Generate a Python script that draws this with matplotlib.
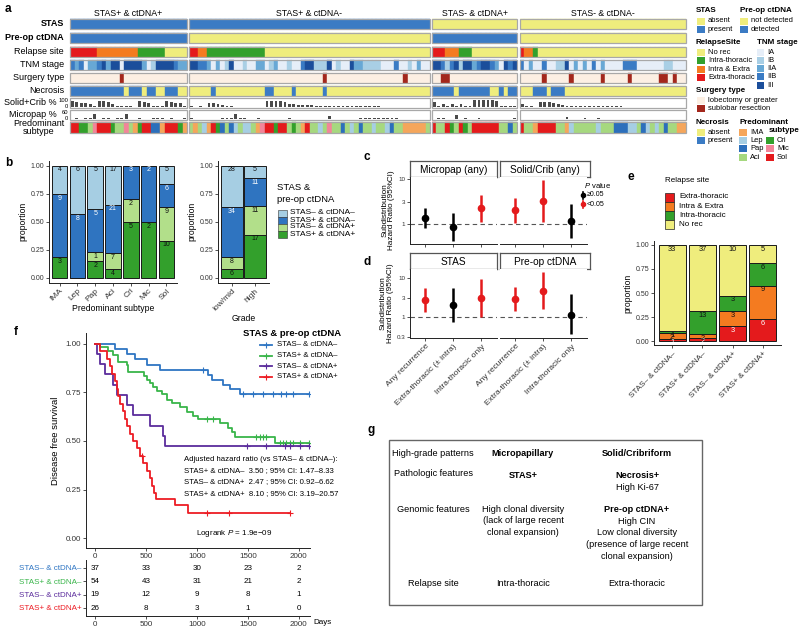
import numpy as np
import matplotlib
matplotlib.use('Agg')
import matplotlib.pyplot as plt
from matplotlib.patches import Rectangle

plt.rcParams['font.family'] = ['Liberation Sans', 'DejaVu Sans']
plt.rcParams['mathtext.fontset'] = 'custom'
plt.rcParams['mathtext.rm'] = 'Liberation Sans'
plt.rcParams['mathtext.it'] = 'Liberation Sans:italic'
plt.rcParams['axes.linewidth'] = 0.7

# ======================= DATA =======================
# ---- panel a ----
group_names = ['STAS+ & ctDNA+', 'STAS+ & ctDNA-', 'STAS- & ctDNA+', 'STAS- & ctDNA-']
group_stas = [1, 1, 0, 0]
group_ctdna = [1, 0, 1, 0]
# relapse: 0 No rec, 1 Intra-thoracic, 2 Intra & Extra, 3 Extra-thoracic
relapse_g1 = [3,3,3,3,3,3,2,2,2,2, 2,2,2,2,2,1,1,1,1,1, 1,0,0,0,0,0]
relapse_g2 = [3,3,2,2,1,1,1,1,1,1, 1,1,1,1,1,1,1,0,0,0, 0,0,0,0,0,0,0,0,0,0,
              0,0,0,0,0,0,0,0,0,0, 0,0,0,0,0,0,0,0,0,0, 0,0,0,0]
relapse_g3 = [3,3,3,2,2,2,1,1,1,0, 0,0,0,0,0,0,0,0,0]
relapse_g4 = [3,2,2,1,0,0,0,0,0,0, 0,0,0,0,0,0,0,0,0,0, 0,0,0,0,0,0,0,0,0,0, 0,0,0,0,0,0,0]
# TNM: 0 IA, 1 IB, 2 IIA, 3 IIB, 4 III
tnm_g1 = [3,2,3,0,2,2,3,4,2,4, 4,0,4,4,4,4,2,0,1,4, 4,4,4,3,2,2]
tnm_g2 = [4,4,3,3,2,0,2,0,1,4, 0,0,1,0,0,2,2,0,1,2, 0,0,1,0,0,3,4,4,1,1,
          1,4,0,1,0,0,4,2,2,1, 1,1,1,0,0,0,3,0,0,1, 0,2,0,0]
tnm_g3 = [4,4,3,1,3,4,1,4,4,2, 3,4,4,3,2,0,4,3,4]
tnm_g4 = [3,0,2,0,0,3,0,0,1,1, 4,0,2,0,2,0,3,0,2,0, 0,0,0,3,3,3,0,0,0,0, 0,0,1,1,0,0,0]
# surgery: 0 lobectomy or greater, 1 sublobar resection
surg_g1 = [0,0,0,0,0,0,0,0,0,0, 0,1,0,0,0,0,0,0,0,0, 0,0,0,0,0,0]
surg_g2 = [0,0,0,0,0,0,0,0,0,0, 0,0,0,0,0,0,0,0,0,0, 0,0,0,0,0,0,0,0,0,0,
           1,0,0,0,0,0,0,0,0,0, 0,0,0,0,0,0,0,0,1,0, 0,0,0,0]
surg_g3 = [0,0,1,1,0,0,0,0,0,0, 0,0,0,0,0,0,0,0,0]
surg_g4 = [0,0,0,0,0,1,0,0,0,0, 0,1,0,0,0,0,0,0,1,0, 0,0,0,0,1,0,0,0,0,0, 0,1,1,0,1,0,0]
# necrosis: 0 absent, 1 present
necro_g1 = [1,1,1,1,1,1,1,1,1,1, 1,1,0,1,1,1,0,1,1,0, 0,1,1,1,0,0]
necro_g2 = [0,0,0,0,0,1,0,0,0,0, 0,0,0,0,0,0,0,1,1,0, 0,0,0,1,0,0,0,0,0,0,
            1,0,0,0,0,0,0,0,0,0, 0,0,0,0,0,0,0,0,0,0, 0,0,0,0]
necro_g3 = [1,1,1,1,1,0,1,1,1,1, 1,1,1,0,0,1,0,1,1]
necro_g4 = [0,0,0,1,1,1,0,1,1,1, 0,0,0,0,0,0,0,0,0,0, 0,0,0,0,0,0,0,0,0,0, 0,0,0,0,0,0,0]
# solid + cribriform %
solid_g1 = [70,60,50,45,40,10,70,70,65,40, 10,5,5,5,0,70,60,50,5,5, 5,70,60,50,45,5]
solid_g2 = [5,0,5,0,50,45,30,20,5,5, 0,0,0,0,0,0,0,75,75,75, 70,60,40,30,25,20,20,18,15,15,
            15,12,12,10,10,10,8,8,5,5, 5,5,5,0,0,0,0,0,0,0, 0,0,0,0]
solid_g3 = [60,5,40,5,40,5,40,5,5,80, 80,80,80,80,75,5,5,5,5]
solid_g4 = [40,5,5,0,60,60,55,45,35,20, 15,15,12,12,10,10,10,8,8,6, 6,5,5,0,0,0,0,0,0,0, 0,0,0,0,0,0,0]
# micropapillary %
micro_g1 = [0,5,0,5,5,35,0,5,5,0, 5,5,35,0,0,5,0,0,5,10, 5,0,5,0,0,5]
micro_g2 = [5,0,0,0,0,0,0,5,5,10, 40,10,5,0,0,5,0,0,0,0, 0,0,5,0,0,0,0,0,0,0,
            0,20,0,0,0,0,0,0,5,5, 5,5,5,5,5,5,5,0,0,0, 0,0,0,0]
micro_g3 = [0,5,5,0,0,30,0,5,0,0, 5,0,0,0,0,0,0,0,5]
micro_g4 = [0,0,0,0,0,0,0,0,0,0, 15,0,0,0,5,0,0,5,0,0, 0,0,0,0,0,0,0,0,0,0, 0,0,0,0,0,0,0]
# predominant subtype: 0 IMA, 1 Lep, 2 Pap, 3 Aci, 4 Cri, 5 Mic, 6 Sol
sub_g1 = [6,6,4,4,3,5,6,6,6,4, 3,3,5,3,0,4,6,6,2,2, 0,6,6,6,4,0]
sub_g2 = [3,0,3,1,0,6,4,2,3,2, 1,3,1,1,3,0,5,6,6,4, 6,6,3,4,3,0,6,3,3,1,
          3,5,3,3,2,3,1,3,2,3, 3,1,3,3,1,2,3,3,0,0, 0,0,0,3]
sub_g3 = [6,3,3,6,4,3,6,4,3,6, 6,6,6,6,6,3,3,2,3]
sub_g4 = [6,3,3,0,6,6,6,6,3,3, 0,1,3,3,3,3,3,1,3,3, 3,2,2,2,1,1,3,2,1,3, 1,3,2,3,3,0,0]

# ---- panel b ----
b_subtypes = ['IMA', 'Lep', 'Pap', 'Aci', 'Cri', 'Mic', 'Sol']
b_sn_cn = [4, 6, 5, 17, 0, 0, 5]
b_sp_cn = [9, 8, 5, 21, 3, 2, 6]
b_sn_cp = [0, 0, 1, 7, 2, 0, 9]
b_sp_cp = [3, 0, 2, 4, 5, 2, 10]
b_grades = ['low/mid', 'high']
bg_sn_cn = [28, 5]
bg_sp_cn = [34, 11]
bg_sn_cp = [8, 11]
bg_sp_cp = [6, 17]
combo_labels = ['STAS\u2013 & ctDNA\u2013', 'STAS+ & ctDNA\u2013', 'STAS\u2013 & ctDNA+', 'STAS+ & ctDNA+']

# ---- panels c / d ----
outcomes = ['Any recurrence', 'Extra-thoracic (\u00b1 intra)', 'Intra-thoracic only']
c_facets = ['Micropap (any)', 'Solid/Crib (any)']
c_hr = [[1.38, 0.86, 2.23], [2.05, 3.3, 1.17]]
c_lo = [[0.81, 0.42, 1.09], [1.04, 1.09, 0.50]]
c_hi = [[2.27, 1.73, 4.4], [3.7, 9.5, 2.74]]
c_sig = [[0, 0, 1], [1, 1, 0]]
d_facets = ['STAS', 'Pre-op ctDNA']
d_hr = [[2.73, 2.03, 3.13], [2.84, 4.7, 1.12]]
d_lo = [[1.32, 0.73, 1.02], [1.43, 1.6, 0.36]]
d_hi = [[5.65, 5.4, 9.3], [5.8, 14.0, 3.8]]
d_sig = [[1, 0, 1], [1, 1, 0]]

# ---- panel e ----
e_extra = [1, 2, 3, 6]
e_both = [2, 2, 3, 9]
e_intra = [1, 13, 3, 6]
e_norec = [33, 37, 10, 5]

# ---- panel f ----
km_t_nn = [0, 196, 311, 392, 507, 637, 1111, 1144, 1258, 1324, 1421]
km_s_nn = [1, 0.973, 0.946, 0.919, 0.892, 0.865, 0.838, 0.811, 0.79, 0.767, 0.743]
cens_nn = [1062, 1454, 1552, 1650, 1748, 1830, 1879, 1944, 2100]
km_t_pn = [0, 49, 131, 180, 229, 310, 327, 480, 507, 539, 572, 605, 654, 703, 752, 833, 899, 964, 1013, 1225, 1307, 1340, 1373, 1765]
km_s_pn = [1, 0.981, 0.963, 0.944, 0.907, 0.889, 0.852, 0.833, 0.815, 0.796, 0.778, 0.759, 0.741, 0.713, 0.694, 0.674, 0.651, 0.629, 0.612, 0.590, 0.568, 0.548, 0.522, 0.490]
cens_pn = [1095, 1160, 1585, 1618, 1650, 1683, 1814, 1846, 1879, 1912, 1944, 2010, 2100]
km_t_np = [0, 16, 49, 98, 180, 212, 310, 376, 539, 670, 686]
km_s_np = [1, 0.947, 0.895, 0.842, 0.789, 0.737, 0.684, 0.632, 0.579, 0.526, 0.474]
cens_np = [1487, 1683, 1863, 1912, 2010, 2100]
km_t_pp = [0, 49, 114, 147, 163, 196, 212, 229, 245, 271, 294, 310, 343, 376, 408, 441, 474, 507, 539, 556, 578, 598, 784, 915]
km_s_pp = [1, 0.962, 0.923, 0.885, 0.846, 0.808, 0.769, 0.731, 0.692, 0.654, 0.615, 0.577, 0.538, 0.500, 0.462, 0.423, 0.385, 0.346, 0.308, 0.269, 0.231, 0.2, 0.173, 0.132]
cens_pp = [465, 1095, 1320, 1912]
risk_times = [0, 500, 1000, 1500, 2000]
risk_nn = [37, 33, 30, 23, 2]
risk_pn = [54, 43, 31, 21, 2]
risk_np = [19, 12, 9, 8, 1]
risk_pp = [26, 8, 3, 1, 0]
hr_lines = ['Adjusted hazard ratio (vs STAS\u2013 & ctDNA\u2013):',
            'STAS+ & ctDNA\u2013  3.50 ; 95% CI: 1.47\u20138.33',
            'STAS\u2013 & ctDNA+  2.47 ; 95% CI: 0.92\u20136.62',
            'STAS+ & ctDNA+  8.10 ; 95% CI: 3.19\u201320.57']

# ======================= STYLE =======================
YEL = '#efed7d'
BLU = '#3b7bc4'
relapse_cols = ['#efed7d', '#33a02c', '#f47b20', '#e41a1c']
tnm_cols = ['#e6eef8', '#a9cfe5', '#68a8d5', '#3a7bc4', '#1b4e9b']
surg_cols = ['#fcefe3', '#a3271c']
sub_cols = ['#f5a65b', '#a6cee3', '#2c6fbb', '#a6d87f', '#33a02c', '#f28599', '#e41a1c']
combo_cols = ['#a6cee3', '#2f74c0', '#b2df8a', '#33a02c']
km_cols = ['#2e75c3', '#39b54a', '#5b2c9c', '#ed1c24']
RED_P = '#e41a1c'

W, H = 800, 636
fig = plt.figure(figsize=(8, 6.36), dpi=100)


def add_ax(x0, y0, x1, y1):
    return fig.add_axes([x0 / W, 1 - y1 / H, (x1 - x0) / W, (y1 - y0) / H])


ov = fig.add_axes([0, 0, 1, 1])
ov.set_xlim(0, W)
ov.set_ylim(H, 0)
ov.axis('off')
ov.patch.set_alpha(0)
ov.set_zorder(10)


def T(x, y, s, fs=6, **kw):
    kw.setdefault('va', 'center')
    kw.setdefault('ha', 'left')
    ov.text(x, y, s, fontsize=fs, **kw)


def P(x, y, w, h, fc, ec='none', lw=0.5):
    ov.add_patch(Rectangle((x, y), w, h, facecolor=fc, edgecolor=ec, lw=lw))


def style(ax, ls=5):
    for s in ['top', 'right']:
        ax.spines[s].set_visible(False)
    for s in ['left', 'bottom']:
        ax.spines[s].set_color('#222222')
    ax.tick_params(length=2, width=0.6, labelsize=ls, pad=1.5, colors='#333333')


# panel labels
for lab, x, y in [('a', 5, 9), ('b', 5, 163), ('c', 364, 157), ('d', 364, 262),
                  ('e', 628, 177), ('f', 14, 332), ('g', 368, 430)]:
    T(x, y, lab, fs=8.5, weight='bold')

# ======================= PANEL A =======================
relapse = [relapse_g1, relapse_g2, relapse_g3, relapse_g4]
tnm = [tnm_g1, tnm_g2, tnm_g3, tnm_g4]
surg = [surg_g1, surg_g2, surg_g3, surg_g4]
necro = [necro_g1, necro_g2, necro_g3, necro_g4]
solid = [solid_g1, solid_g2, solid_g3, solid_g4]
micro = [micro_g1, micro_g2, micro_g3, micro_g4]
subtype = [sub_g1, sub_g2, sub_g3, sub_g4]

grp_x = [(70, 187), (189, 430), (432, 517), (520, 686)]
row_top = [19, 33, 47, 60, 73, 86, 98, 110, 122]
RH = 9.5
BORDER = '#a8a8a8'
for gi, (x0, x1) in enumerate(grp_x):
    n = len(relapse[gi])
    ax = add_ax(x0, 17, x1, 135)
    ax.set_xlim(0, n)
    ax.set_ylim(135, 17)
    ax.axis('off')
    xs = np.arange(n) + 0.5
    cat_rows = [
        [BLU if group_stas[gi] else YEL] * n,
        [BLU if group_ctdna[gi] else YEL] * n,
        [relapse_cols[v] for v in relapse[gi]],
        [tnm_cols[v] for v in tnm[gi]],
        [surg_cols[v] for v in surg[gi]],
        [BLU if v else YEL for v in necro[gi]],
    ]
    for r, cols in enumerate(cat_rows):
        ax.bar(xs, RH, bottom=row_top[r], width=1.0, color=cols, edgecolor=cols, linewidth=0.3)
        ax.add_patch(Rectangle((0, row_top[r]), n, RH, fill=False, ec=BORDER, lw=0.9, clip_on=False))
    for r, vals, vmax in [(6, solid[gi], 100), (7, micro[gi], 60)]:
        ax.add_patch(Rectangle((0, row_top[r]), n, RH, facecolor='white', ec=BORDER, lw=0.9, clip_on=False))
        ax.bar(xs, -np.array(vals, float) / vmax * (RH - 1.5), bottom=row_top[r] + RH - 0.6,
               width=0.62, color='#4a4a4a', linewidth=0)
    cols = [sub_cols[v] for v in subtype[gi]]
    ax.bar(xs, RH + 1, bottom=row_top[8], width=1.0, color=cols, edgecolor=cols, linewidth=0.3)
    ax.add_patch(Rectangle((0, row_top[8]), n, RH + 1, fill=False, ec=BORDER, lw=0.9, clip_on=False))
    T((x0 + x1) / 2, 13, group_names[gi], fs=6.3, ha='center')

row_labels = ['STAS', 'Pre-op ctDNA', 'Relapse site', 'TNM stage', 'Surgery type', 'Necrosis',
              'Solid+Crib %', 'Micropap %', 'Predominant\nsubtype']
for r, lab in enumerate(row_labels):
    yc = row_top[r] + RH / 2 + (0.5 if r == 8 else 0)
    xr = 57 if r in (6, 7) else 64
    T(xr, yc, lab, fs=6.5, ha='right', weight='bold' if r < 2 else 'normal',
      multialignment='center', linespacing=0.9)
T(68, 100, '100', fs=4.2, ha='right')
T(68, 106, '0', fs=4.2, ha='right')
T(68, 112, '60', fs=4.2, ha='right')
T(68, 118, '0', fs=4.2, ha='right')

# panel a legend
LFS = 5.4


def leg_items(x, y0, dy, items, w=8, h=7, ec='none'):
    for i, (col, lab) in enumerate(items):
        y = y0 + i * dy
        P(x, y - h / 2, w, h, col, ec=ec)
        T(x + w + 3, y, lab, fs=LFS)


T(696, 10, 'STAS', fs=5.8, weight='bold')
leg_items(697, 21, 8.5, [(YEL, 'absent'), (BLU, 'present')])
T(740, 10, 'Pre-op ctDNA', fs=5.8, weight='bold')
leg_items(740, 21, 8.5, [(YEL, 'not detected'), (BLU, 'detected')])
T(696, 42, 'RelapseSite', fs=5.8, weight='bold')
leg_items(697, 52, 8.6, [(relapse_cols[0], 'No rec'), (relapse_cols[1], 'Intra-thoracic'),
                         (relapse_cols[2], 'Intra & Extra'), (relapse_cols[3], 'Extra-thoracic')])
T(757, 42, 'TNM stage', fs=5.8, weight='bold')
leg_items(757, 52, 8.3, [(tnm_cols[0], 'IA'), (tnm_cols[1], 'IB'), (tnm_cols[2], 'IIA'),
                         (tnm_cols[3], 'IIB'), (tnm_cols[4], 'III')], w=7)
T(696, 90, 'Surgery type', fs=5.8, weight='bold')
leg_items(697, 100, 8.5, [(surg_cols[0], 'lobectomy or greater'), (surg_cols[1], 'sublobar resection')])
T(696, 123, 'Necrosis', fs=5.8, weight='bold')
leg_items(697, 132, 8.5, [(YEL, 'absent'), (BLU, 'present')])
T(739, 123, 'Predominant', fs=5.8, weight='bold')
T(769, 130.5, 'subtype', fs=5.8, weight='bold')
leg_items(739, 132.5, 8.2, [(sub_cols[0], 'IMA'), (sub_cols[1], 'Lep'), (sub_cols[2], 'Pap'), (sub_cols[3], 'Aci')])
leg_items(766, 140.7, 8.2, [(sub_cols[4], 'Cri'), (sub_cols[5], 'Mic'), (sub_cols[6], 'Sol')])

# ======================= PANEL B =======================


def stack_panel(ax, series, cols, tcols, width, fs=5):
    n = len(series[0])
    x = np.arange(n)
    tot = np.sum(np.array(series, float), axis=0)
    bottom = np.zeros(n)
    for vals, col, tc in zip(series, cols, tcols):
        vals = np.array(vals, float)
        p = vals / tot
        ax.bar(x, p, bottom=bottom, width=width, color=col, edgecolor='#1a1a1a', linewidth=0.7)
        for i in range(n):
            if vals[i] > 0:
                ax.text(x[i], bottom[i] + p[i] - 0.008, str(int(vals[i])), ha='center', va='top',
                        fontsize=fs, color=tc)
        bottom += p
    ax.set_ylim(-0.04, 1.04)
    ax.set_yticks([0, 0.25, 0.5, 0.75, 1.0])
    ax.set_yticklabels(['0.00', '0.25', '0.50', '0.75', '1.00'])
    style(ax, ls=5)


b_series = [b_sp_cp, b_sn_cp, b_sp_cn, b_sn_cn]
b_cols = [combo_cols[3], combo_cols[2], combo_cols[1], combo_cols[0]]
b_tcols = ['#111111', '#111111', 'white', '#111111']
axb1 = add_ax(49, 161, 177, 282.5)
stack_panel(axb1, b_series, b_cols, b_tcols, 0.88)
axb1.set_xlim(-0.6, 6.6)
axb1.set_xticks(range(7))
axb1.set_xticklabels(b_subtypes, rotation=45, ha='right', rotation_mode='anchor', fontsize=6)
axb1.set_xlabel('Predominant subtype', fontsize=6.2, labelpad=1)
axb1.set_ylabel('proportion', fontsize=6.2, labelpad=2)

axb2 = add_ax(218, 161, 269, 282.5)
stack_panel(axb2, [bg_sp_cp, bg_sn_cp, bg_sp_cn, bg_sn_cn], b_cols, b_tcols, 0.93)
axb2.set_xlim(-0.6, 1.6)
axb2.set_xticks(range(2))
axb2.set_xticklabels(b_grades, rotation=45, ha='right', rotation_mode='anchor', fontsize=6)
axb2.set_xlabel('Grade', fontsize=6.2, labelpad=1)
axb2.set_ylabel('proportion', fontsize=6.2, labelpad=2)

T(277, 188, 'STAS &', fs=6.8)
T(277, 200, 'pre-op ctDNA', fs=6.8)
for i, lab in enumerate(combo_labels):
    y = 213 + i * 7
    P(278, y - 3.5, 9, 7, combo_cols[i], ec='#333333', lw=0.4)
    T(290, y, lab, fs=6)

# ======================= PANELS C / D =======================


def strip(x0, y0, x1, y1, text):
    a = add_ax(x0, y0, x1, y1)
    a.set_xticks([])
    a.set_yticks([])
    for s in a.spines.values():
        s.set_color('#555555')
        s.set_linewidth(0.9)
    a.text(0.5, 0.45, text, ha='center', va='center', fontsize=7.3, transform=a.transAxes)


def forest(ax, hr, lo, hi, sig, ylim, yticks, first, xlabels):
    x = np.arange(1, 4)
    ax.axhline(1, ls=(0, (4, 3)), color='#555555', lw=0.8, zorder=1)
    for i in range(3):
        col = RED_P if sig[i] else 'black'
        ax.plot([x[i], x[i]], [lo[i], hi[i]], color=col, lw=1.8, solid_capstyle='butt', zorder=2)
        ax.plot(x[i], hr[i], 'o', color=col, ms=4.5, zorder=3)
    ax.set_yscale('log')
    ax.set_ylim(*ylim)
    ax.set_xlim(0.46, 3.56)
    style(ax, ls=4.5)
    ax.yaxis.set_minor_locator(matplotlib.ticker.NullLocator())
    ax.set_yticks(yticks)
    ax.set_yticklabels([('%g' % v) for v in yticks])
    ax.set_xticks(x)
    if xlabels:
        ax.set_xticklabels(outcomes, rotation=45, ha='right', rotation_mode='anchor', fontsize=6)
    else:
        ax.set_xticklabels([])
    if not first:
        ax.spines['left'].set_visible(False)
        ax.tick_params(axis='y', left=False, labelleft=False)
    else:
        ax.set_ylabel('Subdistribution\nHazard Ratio (95%CI)', fontsize=5.9, labelpad=2, linespacing=1.0)


facet_x = [(410, 497), (500, 587)]
for k in range(2):
    x0, x1 = facet_x[k]
    strip(x0, 161, x1 + (3 if k else 0), 177, c_facets[k])
    axc = add_ax(x0, 177, x1, 244)
    forest(axc, c_hr[k], c_lo[k], c_hi[k], c_sig[k], (0.36, 11), [1, 3, 10], k == 0, False)
    strip(x0, 253, x1 + (3 if k else 0), 269, d_facets[k])
    axd = add_ax(x0, 269, x1, 338)
    forest(axd, d_hr[k], d_lo[k], d_hi[k], d_sig[k], (0.29, 17), [0.3, 1, 3, 10], k == 0, True)

T(584, 186, '$P$ value', fs=5.5)
for col, lab, y in [('black', '\u22650.05', 195), (RED_P, '<0.05', 204)]:
    ov.plot([583, 583], [y - 3.5, y + 3.5], color=col, lw=1.2)
    ov.plot([583], [y], 'o', color=col, ms=3)
    T(587, y, lab, fs=5)

# ======================= PANEL E =======================
axe = add_ax(654, 241, 781, 345)
stack_panel(axe, [e_extra, e_both, e_intra, e_norec], relapse_cols[::-1],
            ['white', '#111111', '#111111', '#111111'], 0.9, fs=5.3)
axe.set_xlim(-0.6, 3.6)
axe.set_xticks(range(4))
axe.set_xticklabels(combo_labels, rotation=45, ha='right', rotation_mode='anchor', fontsize=5.8)
axe.set_ylabel('proportion', fontsize=6.2, labelpad=2)
T(665, 181, 'Relapse site', fs=5.8)
leg_e = [(relapse_cols[3], 'Extra-thoracic'), (relapse_cols[2], 'Intra & Extra'),
         (relapse_cols[1], 'Intra-thoracic'), (relapse_cols[0], 'No rec')]
for i, (col, lab) in enumerate(leg_e):
    y = 197 + i * 9.3
    P(665, y - 4.5, 9, 9, col, ec='#222222', lw=0.5)
    T(679, y, lab, fs=5.8)

# ======================= PANEL F =======================
XL = (-88, 2110)
axf = add_ax(86, 333, 310, 548)
km_sets = [(km_t_nn, km_s_nn, cens_nn), (km_t_pn, km_s_pn, cens_pn),
           (km_t_np, km_s_np, cens_np), (km_t_pp, km_s_pp, cens_pp)]
for (t, s, c), col in zip(km_sets, km_cols):
    tt = list(t) + [max(c)]
    ss = list(s) + [s[-1]]
    axf.step(tt, ss, where='post', color=col, lw=1.3)
    idx = np.searchsorted(t, c, side='right') - 1
    axf.plot(c, np.array(s)[idx], ls='none', marker='+', ms=4, mew=0.8, color=col)
axf.set_xlim(*XL)
axf.set_ylim(-0.05, 1.055)
axf.set_yticks([0, 0.25, 0.5, 0.75, 1.0])
axf.set_yticklabels(['0.00', '0.25', '0.50', '0.75', '1.00'])
axf.set_xticks(risk_times)
style(axf, ls=5.8)
axf.set_ylabel('Disease free survival', fontsize=6.8, labelpad=4)
for i, line in enumerate(hr_lines):
    axf.text(0.437, 0.413 - i * 0.053, line, transform=axf.transAxes, fontsize=5.6, va='center')
axf.text(0.49, 0.066, 'Logrank $P$ = 1.9e\u221209', transform=axf.transAxes, fontsize=5.8, va='center')

T(243, 333, 'STAS & pre-op ctDNA', fs=6.8, weight='bold')
for i, lab in enumerate(combo_labels):
    y = 345 + i * 10.6
    ov.plot([260, 272], [y, y], color=km_cols[i], lw=1.3)
    ov.plot([266], [y], marker='+', ms=4, mew=0.8, color=km_cols[i])
    T(277, y, lab, fs=5.6)

axr = add_ax(86, 560, 310, 616)
risk = [risk_nn, risk_pn, risk_np, risk_pp]
for i, arr in enumerate(risk):
    for j, tv in enumerate(risk_times):
        axr.text(tv, i + 0.5, str(arr[j]), ha='center', va='center', fontsize=5.8)
axr.set_xlim(*XL)
axr.set_ylim(4.1, -0.1)
axr.set_yticks(np.arange(4) + 0.5)
axr.set_yticklabels(combo_labels, fontsize=5.8)
axr.set_xticks(risk_times)
style(axr, ls=5.8)
for tl, col in zip(axr.get_yticklabels(), km_cols):
    tl.set_color(col)
T(313, 623, 'Days', fs=5.8)

# ======================= PANEL G =======================
P(389, 440, 313, 165, 'none', ec='#666666', lw=1.0)
GFS = 6.6
cx0, cx1, cx2 = 433, 523, 637
T(cx0, 454, 'High-grade patterns', fs=GFS, ha='center')
T(cx1, 454, 'Micropapillary', fs=GFS, ha='center', weight='bold')
T(cx2, 454, 'Solid/Cribriform', fs=GFS, ha='center', weight='bold')
T(cx0, 473, 'Pathologic features', fs=GFS, ha='center')
T(cx1, 475, 'STAS+', fs=GFS, ha='center', weight='bold')
T(cx2, 475, 'Necrosis+', fs=GFS, ha='center', weight='bold')
T(cx2, 487, 'High Ki-67', fs=GFS, ha='center')
T(cx0, 509, 'Genomic features', fs=GFS, ha='center')
for i, line in enumerate(['High clonal diversity', '(lack of large recent', 'clonal expansion)']):
    T(cx1, 509 + i * 11.8, line, fs=GFS, ha='center')
T(cx2, 509, 'Pre-op ctDNA+', fs=GFS, ha='center', weight='bold')
for i, line in enumerate(['High CIN', 'Low clonal diversity', '(presence of large recent', 'clonal expansion)']):
    T(cx2, 521 + i * 11.7, line, fs=GFS, ha='center')
T(cx0, 584, 'Relapse site', fs=GFS, ha='center')
T(cx1, 584, 'Intra-thoracic', fs=GFS, ha='center')
T(cx2, 584, 'Extra-thoracic', fs=GFS, ha='center')

fig.savefig('out.png', dpi=100)
